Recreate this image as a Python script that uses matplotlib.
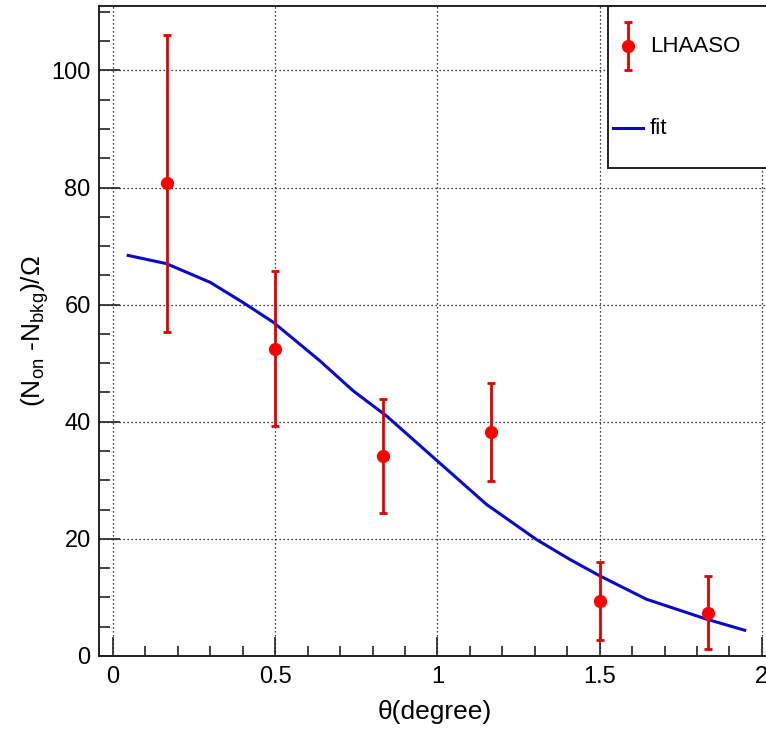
import matplotlib
matplotlib.use("Agg")
import matplotlib.pyplot as plt
from matplotlib.ticker import MultipleLocator

plt.rcParams["font.family"] = ["Liberation Sans", "DejaVu Sans"]
plt.rcParams["mathtext.fontset"] = "custom"
plt.rcParams["mathtext.rm"] = "Liberation Sans"
plt.rcParams["mathtext.it"] = "Liberation Sans"

C_RED = "#ff0000"
C_ERR = "#e00000"
C_BLUE = "#0a0ac8"

# LHAASO points (bin centres in degree)
theta = [1 / 6, 0.5, 5 / 6, 7 / 6, 1.5, 11 / 6]
counts = [80.7, 52.5, 34.2, 38.2, 9.4, 7.4]
counts_err = [25.3, 13.3, 9.7, 8.4, 6.7, 6.2]

# fit curve
fit_x = [0.047, 0.165, 0.30, 0.40, 0.494, 0.638, 0.74, 0.843, 1.0, 1.151,
         1.305, 1.408, 1.5, 1.644, 1.829, 1.947]
fit_y = [68.4, 67.0, 63.8, 60.4, 57.0, 50.4, 45.3, 41.0, 33.3, 25.9,
         19.9, 16.5, 13.7, 9.7, 6.3, 4.4]

W, H = 766, 730
fig = plt.figure(figsize=(W / 100, H / 100), dpi=100)
ax = fig.add_axes([99 / W, 1 - 656 / H, (770 - 99) / W, (656 - 6) / H])

ax.plot(fit_x, fit_y, color=C_BLUE, lw=2.2, zorder=3)
ax.errorbar(theta, counts, yerr=counts_err, fmt="o", color=C_RED, ecolor=C_ERR,
            markersize=8.5, elinewidth=2.0, capsize=2.6, capthick=2.0, zorder=4)

ax.set_xlim(-0.043, 2.025)
ax.set_ylim(0, 111)
ax.xaxis.set_major_locator(MultipleLocator(0.5))
ax.xaxis.set_minor_locator(MultipleLocator(0.1))
ax.yaxis.set_major_locator(MultipleLocator(20))
ax.yaxis.set_minor_locator(MultipleLocator(5))
ax.set_xticks([0, 0.5, 1, 1.5, 2])
ax.set_xticklabels(["0", "0.5", "1", "1.5", "2"])

ax.tick_params(axis="both", which="both", direction="in", width=1.2, color="#222222",
               labelsize=17, top=False, right=False)
ax.tick_params(axis="x", which="major", length=14, pad=7)
ax.tick_params(axis="x", which="minor", length=7.5)
ax.tick_params(axis="y", which="major", length=15, pad=6)
ax.tick_params(axis="y", which="minor", length=8)

ax.grid(True, which="major", color="black", lw=0.9, linestyle=(0, (1, 2.2)))
ax.set_axisbelow(True)
for spine in ax.spines.values():
    spine.set_linewidth(1.4)
    spine.set_color("#222222")

ax.set_xlabel("θ(degree)", fontsize=19, labelpad=9)
ax.set_ylabel(r"(N$_{\mathregular{on}}$ -N$_{\mathregular{bkg}}$)/Ω", fontsize=19, labelpad=0)

# legend box, drawn in pixel coordinates
lax = fig.add_axes([607.7 / W, 1 - 168 / H, 0.22, (168 - 6) / H], zorder=5)
lax.set_xlim(607.7, 607.7 + 0.22 * W)
lax.set_ylim(168, 6)
lax.set_xticks([])
lax.set_yticks([])
lax.set_facecolor("white")
for spine in lax.spines.values():
    spine.set_linewidth(1.4)
    spine.set_color("#222222")
lax.errorbar([628], [46], yerr=[24], fmt="o", color=C_RED, ecolor=C_ERR,
             markersize=8.5, elinewidth=2.0, capsize=2.6, capthick=2.0)
lax.text(650, 47, "LHAASO", fontsize=16, va="center", ha="left")
lax.plot([613, 643], [127.5, 127.5], color=C_BLUE, lw=2.2)
lax.text(650, 128, "fit", fontsize=16, va="center", ha="left")

fig.savefig("out.png", dpi=100)
